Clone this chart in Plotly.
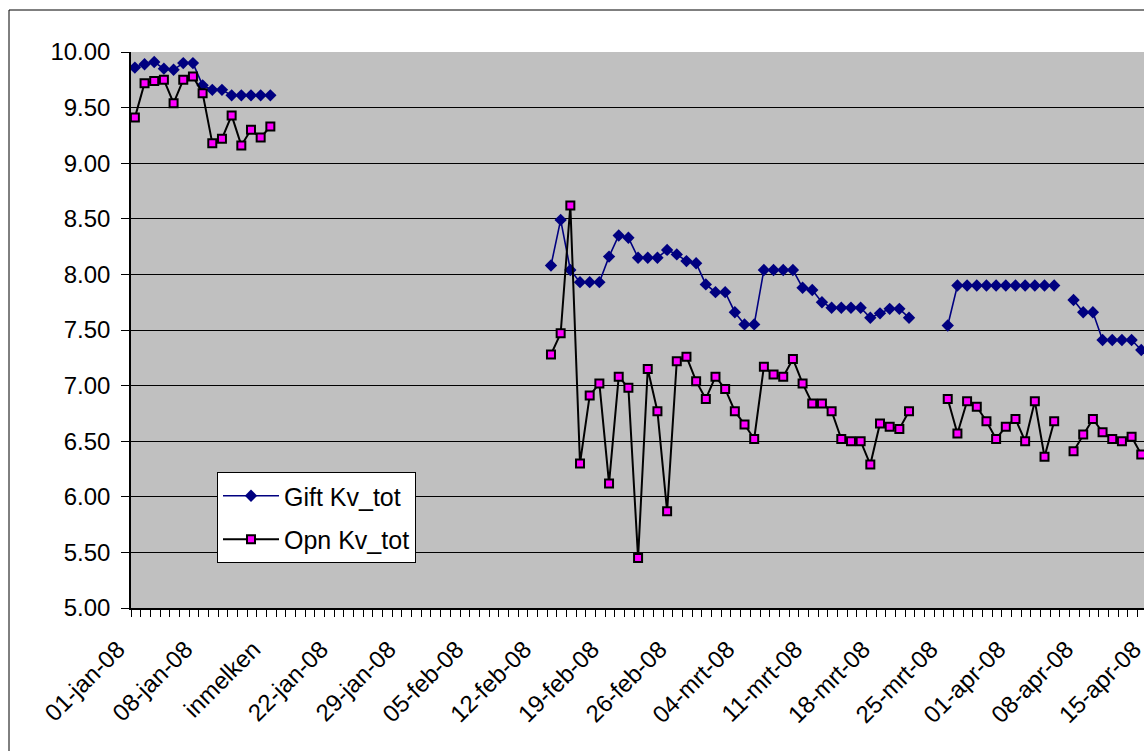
import pandas as pd
import plotly.graph_objects as go

# ---- data -------------------------------------------------------------
# daily categories, 01-jan-2008 .. 14-apr-2008
dates = pd.date_range("2008-01-01", "2008-04-14", freq="D")

# Gift Kv_tot, per block of consecutive days
gift_jan = [9.86, 9.89, 9.91, 9.85, 9.84, 9.90, 9.90, 9.70, 9.66, 9.66,
            9.61, 9.61, 9.61, 9.61, 9.61]                      # 01-jan .. 15-jan
gift_feb_mar = [8.08, 8.49, 8.04, 7.93, 7.93, 7.93, 8.16, 8.35, 8.33, 8.15,
                8.15, 8.15, 8.22, 8.18, 8.12, 8.10, 7.91, 7.84, 7.84, 7.66,
                7.55, 7.55, 8.04, 8.04, 8.04, 8.04, 7.88, 7.86, 7.75, 7.70,
                7.70, 7.70, 7.70, 7.61, 7.65, 7.69, 7.69, 7.61]  # 13-feb .. 21-mrt
gift_mar_apr = [7.54, 7.90, 7.90, 7.90, 7.90, 7.90, 7.90, 7.90, 7.90, 7.90,
                7.90, 7.90]                                     # 25-mrt .. 05-apr
gift_apr = [7.77, 7.66, 7.66, 7.41, 7.41, 7.41, 7.41, 7.32]     # 07-apr .. 14-apr

# Opn Kv_tot, same blocks
opn_jan = [9.41, 9.72, 9.74, 9.75, 9.54, 9.75, 9.78, 9.63, 9.18, 9.22,
           9.43, 9.16, 9.30, 9.23, 9.33]
opn_feb_mar = [7.28, 7.47, 8.62, 6.30, 6.91, 7.02, 6.12, 7.08, 6.98, 5.45,
               7.15, 6.77, 5.87, 7.22, 7.26, 7.04, 6.88, 7.08, 6.97, 6.77,
               6.65, 6.52, 7.17, 7.10, 7.08, 7.24, 7.02, 6.84, 6.84, 6.77,
               6.52, 6.50, 6.50, 6.29, 6.66, 6.63, 6.61, 6.77]
opn_mar_apr = [6.88, 6.57, 6.86, 6.81, 6.68, 6.52, 6.63, 6.70, 6.50, 6.86,
               6.36, 6.68]
opn_apr = [6.41, 6.56, 6.70, 6.58, 6.52, 6.50, 6.54, 6.38]

# days without a measurement between the blocks
gap_jan_feb = [None] * 28
gap_mar = [None] * 3
gap_apr = [None] * 1

gift = gift_jan + gap_jan_feb + gift_feb_mar + gap_mar + gift_mar_apr + gap_apr + gift_apr
opn = opn_jan + gap_jan_feb + opn_feb_mar + gap_mar + opn_mar_apr + gap_apr + opn_apr

# weekly axis labels
label_dates = pd.date_range("2008-01-01", "2008-04-15", freq="7D")
tick_labels = ["01-jan-08", "08-jan-08", "inmelken", "22-jan-08", "29-jan-08",
               "05-feb-08", "12-feb-08", "19-feb-08", "26-feb-08", "04-mrt-08",
               "11-mrt-08", "18-mrt-08", "25-mrt-08", "01-apr-08", "08-apr-08",
               "15-apr-08"]

# ---- layout geometry ----------------------------------------------------
FIG_W, FIG_H = 1170, 751
M_L, M_R, M_T, M_B = 131, 10, 52, 143
plot_w = FIG_W - M_L - M_R
plot_h = FIG_H - M_T - M_B
px_per_day = 9.677
shift = pd.Timedelta(hours=9.6)          # points sit between the day ticks

x_start = dates[0] - shift
x_end = x_start + pd.Timedelta(days=plot_w / px_per_day)

FONT = "Arial, 'Liberation Sans', sans-serif"

fig = go.Figure()
fig.add_trace(go.Scatter(
    x=dates, y=gift, name="Gift Kv_tot", mode="lines+markers",
    connectgaps=False, legendgroup="g",
    line=dict(color="#000080", width=1.6),
    marker=dict(symbol="diamond", size=9.5, color="#000080",
                line=dict(width=0)),
))
fig.add_trace(go.Scatter(
    x=dates, y=opn, name="Opn Kv_tot", mode="lines+markers",
    connectgaps=False, legendgroup="o",
    line=dict(color="#000000", width=2),
    marker=dict(symbol="square", size=8, color="#FF00FF",
                line=dict(color="#000000", width=2)),
))

fig.update_layout(
    width=FIG_W, height=FIG_H,
    margin=dict(l=M_L, r=M_R, t=M_T, b=M_B, pad=0),
    paper_bgcolor="white",
    plot_bgcolor="#C0C0C0",
    font=dict(family=FONT, size=24, color="black"),
    showlegend=True,
    legend=dict(
        x=(217 - M_L) / plot_w, y=(608 - 472) / plot_h,
        xanchor="left", yanchor="top",
        bgcolor="white", bordercolor="black", borderwidth=1,
        font=dict(family=FONT, size=25, color="black"),
        tracegroupgap=8, itemwidth=56,
    ),
    hovermode=False,
    shapes=[dict(
        type="rect", xref="paper", yref="paper",
        x0=(9 - M_L) / plot_w, x1=2,
        y0=-2, y1=(608 - 10) / plot_h,
        line=dict(color="black", width=1), fillcolor="rgba(0,0,0,0)",
        layer="above",
    )],
)

fig.update_xaxes(
    type="date",
    range=[x_start, x_end],
    tickmode="array",
    tickvals=[d - shift for d in label_dates],
    ticktext=tick_labels,
    tickangle=-45,
    ticklabelshift=-13, ticklabelstandoff=9,
    ticks="outside", ticklen=7, tickwidth=1, tickcolor="black",
    minor=dict(ticks="outside", ticklen=7, tickwidth=1, tickcolor="black",
               dtick=86400000, tick0=x_start, showgrid=False),
    showgrid=False, zeroline=False,
    showline=True, linecolor="black", linewidth=1.5,
    tickfont=dict(family=FONT, size=24, color="black"),
    automargin=False,
)
fig.update_yaxes(
    range=[5, 10], tick0=5, dtick=0.5, tickformat=".2f",
    showgrid=True, gridcolor="black", gridwidth=1,
    ticks="outside", ticklen=8, tickwidth=1, tickcolor="black",
    ticklabelstandoff=6,
    showline=True, linecolor="black", linewidth=1.5,
    zeroline=False,
    tickfont=dict(family=FONT, size=24, color="black"),
    automargin=False,
)

fig.write_html(
    "out.html",
    post_script="document.documentElement.style.overflow='hidden';"
                "document.body.style.overflow='hidden';",
)
